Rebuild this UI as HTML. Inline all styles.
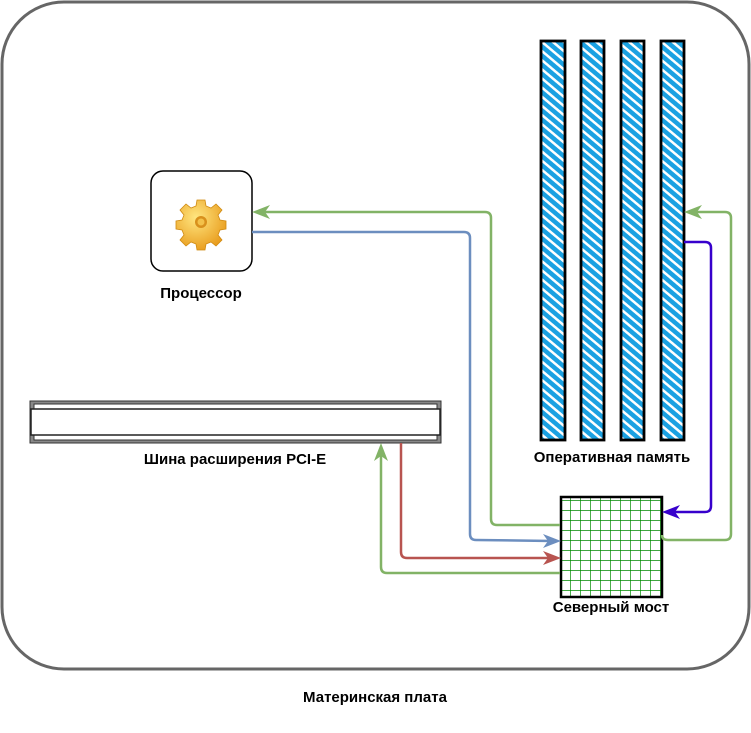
<!DOCTYPE html>
<html><head><meta charset="utf-8"><style>
html,body{margin:0;padding:0;background:#fff;width:751px;height:733px;overflow:hidden}
text{font-family:"Liberation Sans",Arial,sans-serif;font-weight:bold;font-size:15px;fill:#000}
</style></head><body>
<svg width="751" height="733" viewBox="0 0 751 733" xmlns="http://www.w3.org/2000/svg">
<defs>
<pattern id="hatch" width="7" height="7" patternUnits="userSpaceOnUse" patternTransform="rotate(40)">
<rect width="7" height="7" fill="#fff"/>
<rect width="7" height="4.5" fill="#1ba1e2"/>
</pattern>
<pattern id="grid" width="10" height="10" patternUnits="userSpaceOnUse">
<rect width="10" height="10" fill="#fff"/>
<path d="M0 0H10M0 0V10" stroke="#008a00" stroke-width="1.4"/>
</pattern>
<radialGradient id="gg" cx="0.4" cy="0.35" r="0.7">
<stop offset="0" stop-color="#ffe680"/><stop offset="1" stop-color="#e89a1a"/>
</radialGradient>
</defs>
<rect x="2" y="2" width="747" height="667" rx="62" fill="#fff" stroke="#666" stroke-width="3"/>
<text x="375" y="702" text-anchor="middle">Материнская плата</text>

<g stroke="#000" stroke-width="2.8">
<rect x="541" y="41" width="24" height="399" fill="url(#hatch)"/>
<rect x="581" y="41" width="23" height="399" fill="url(#hatch)"/>
<rect x="621" y="41" width="23" height="399" fill="url(#hatch)"/>
<rect x="661" y="41" width="23" height="399" fill="url(#hatch)"/>
</g>
<text x="612" y="462" text-anchor="middle">Оперативная память</text>

<rect x="561" y="497" width="101" height="100" fill="url(#grid)" stroke="#000" stroke-width="2.5"/>
<text x="611" y="612" text-anchor="middle">Северный мост</text>

<rect x="151" y="171" width="101" height="100" rx="12" fill="#fff" stroke="#000" stroke-width="1.5"/>
<g transform="translate(201,222)">
<path fill="url(#gg)" stroke="#d08a10" stroke-width="0.8" d="M-4,-22 h8 l1,6 l5,2 l5,-4 l6,6 l-4,5 l2,5 l6,1 v8 l-6,1 l-2,5 l4,5 l-6,6 l-5,-4 l-5,2 l-1,6 h-8 l-1,-6 l-5,-2 l-5,4 l-6,-6 l4,-5 l-2,-5 l-6,-1 v-8 l6,-1 l2,-5 l-4,-5 l6,-6 l5,4 l5,-2 z"/>
<circle r="6" fill="#d8901c"/><circle r="3.5" fill="#f3c14a"/>
</g>
<text x="201" y="298" text-anchor="middle">Процессор</text>

<rect x="30" y="401" width="411" height="42" fill="#888" stroke="#333" stroke-width="1"/>
<rect x="34" y="404" width="403" height="36" fill="#fff" stroke="#333"/>
<rect x="31" y="409" width="409" height="26" fill="#fff" stroke="#222" stroke-width="1.5"/>
<text x="235" y="464" text-anchor="middle">Шина расширения PCI-E</text>

<g fill="none" stroke-width="2.5">
<path d="M560 525H497q-6 0 -6 -6V218q0 -6 -6 -6H258" stroke="#82b366"/>
<path d="M252 232H464q6 0 6 6V534q0 6 6 6L552 541" stroke="#6c8ebf"/>
<path d="M401 443V552q0 6 6 6H552" stroke="#b85450"/>
<path d="M560 573H387q-6 0 -6 -6V450" stroke="#82b366"/>
<path d="M684 242H705q6 0 6 6V506q0 6 -6 6H670" stroke="#3700cc"/>
<path d="M662 535q0 5 6 5H725q6 0 6 -6V218q0 -6 -6 -6H692" stroke="#82b366"/>
</g>
<g stroke="none">
<path d="M252 212l18 -7l-5 7l5 7z" fill="#82b366"/>
<path d="M561 541l-18 7l5 -7l-5 -7z" fill="#6c8ebf"/>
<path d="M561 558l-18 7l5 -7l-5 -7z" fill="#b85450"/>
<path d="M381 443l7 18l-7 -5l-7 5z" fill="#82b366"/>
<path d="M662 512l18 -7l-5 7l5 7z" fill="#3700cc"/>
<path d="M684 212l18 -7l-5 7l5 7z" fill="#82b366"/>
</g>
</svg>
</body></html>
